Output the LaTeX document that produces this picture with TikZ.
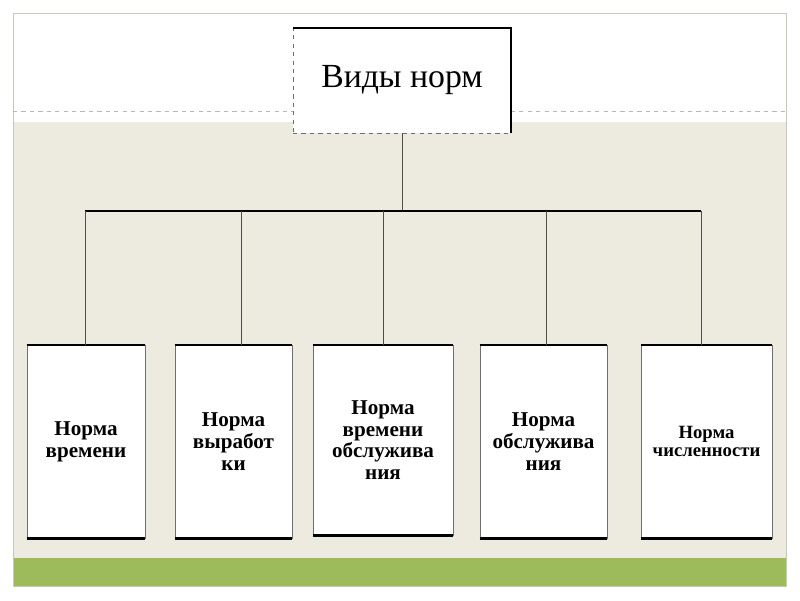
\documentclass[tikz,border=0pt]{standalone}
\usepackage{fontspec}
\setmainfont{Liberation Serif}
\usepackage{tikz}
\usetikzlibrary{positioning, calc}
\definecolor{slidebeige}{RGB}{237,235,224}
\definecolor{slidegreen}{RGB}{157,187,91}
\definecolor{slideframe}{RGB}{200,200,186}
\definecolor{boxgray}{RGB}{110,110,110}
\tikzset{
  rootbox/.style={
    rectangle, draw=boxgray, dashed, fill=white,
    minimum width=5.45cm, minimum height=2.625cm,
    align=center, font=\fontsize{24}{28}\selectfont
  },
  normbox/.style={
    rectangle, draw=boxgray, fill=white, line width=0.5pt,
    minimum height=4.825cm, inner sep=2pt,
    align=center, font=\bfseries\fontsize{15}{15.5}\selectfont
  },
  edgeline/.style={line width=1.6pt, draw=black},
  branch/.style={line width=0.5pt, draw=black!70}
}
\begin{document}
\begin{tikzpicture}[x=0.025cm, y=-0.025cm]
\useasboundingbox (0,0) rectangle (800,600);

% -------- slide background --------
\fill[white] (0,0) rectangle (800,600);
\fill[slidebeige] (13,122) rectangle (786,558);
\fill[slidegreen] (13,558) rectangle (786,586);
\draw[slideframe, line width=0.6pt] (13,13) rectangle (786,586);
\draw[boxgray!50, dashed, line width=0.4pt] (13,111) -- (786,111);

% -------- root --------
\node[rootbox] (root) at (402,80.5) {Виды норм};
\draw[edgeline] (root.north west) -- (root.north east) -- (root.south east);

% -------- bottom boxes --------
\node[normbox, minimum width=2.95cm] (b1) at (86,441.5) {Норма\\времени};
\node[normbox, minimum width=2.925cm] (b2) at (233.5,441.5) {Норма\\выработ\\ки};
\node[normbox, minimum width=3.5cm, minimum height=4.75cm] (b3) at (383,440) {Норма\\времени\\обслужива\\ния};
\node[normbox, minimum width=3.175cm] (b4) at (543.5,441.5) {Норма\\обслужива\\ния};
\node[normbox, minimum width=3.275cm, font=\bfseries\fontsize{13.3}{13}\selectfont] (b5) at (706.5,441.5) {Норма\\численности};

\foreach \b in {b1,b2,b3,b4,b5}
  \draw[edgeline] (\b.north west) -- (\b.north east)
                  (\b.south west) -- (\b.south east);

% -------- connectors --------
\coordinate (barL) at (85,211);
\coordinate (barR) at (701,211);
\draw[branch] (root.south) -- (root.south |- barL);
\draw[line width=1.8pt] (barL) -- (barR);

\foreach \b/\x in {b1/85,b2/241,b3/383,b4/546,b5/701}
  \draw[branch] (\x,211) -- (\x,211 |- \b.north);

\end{tikzpicture}
\end{document}
